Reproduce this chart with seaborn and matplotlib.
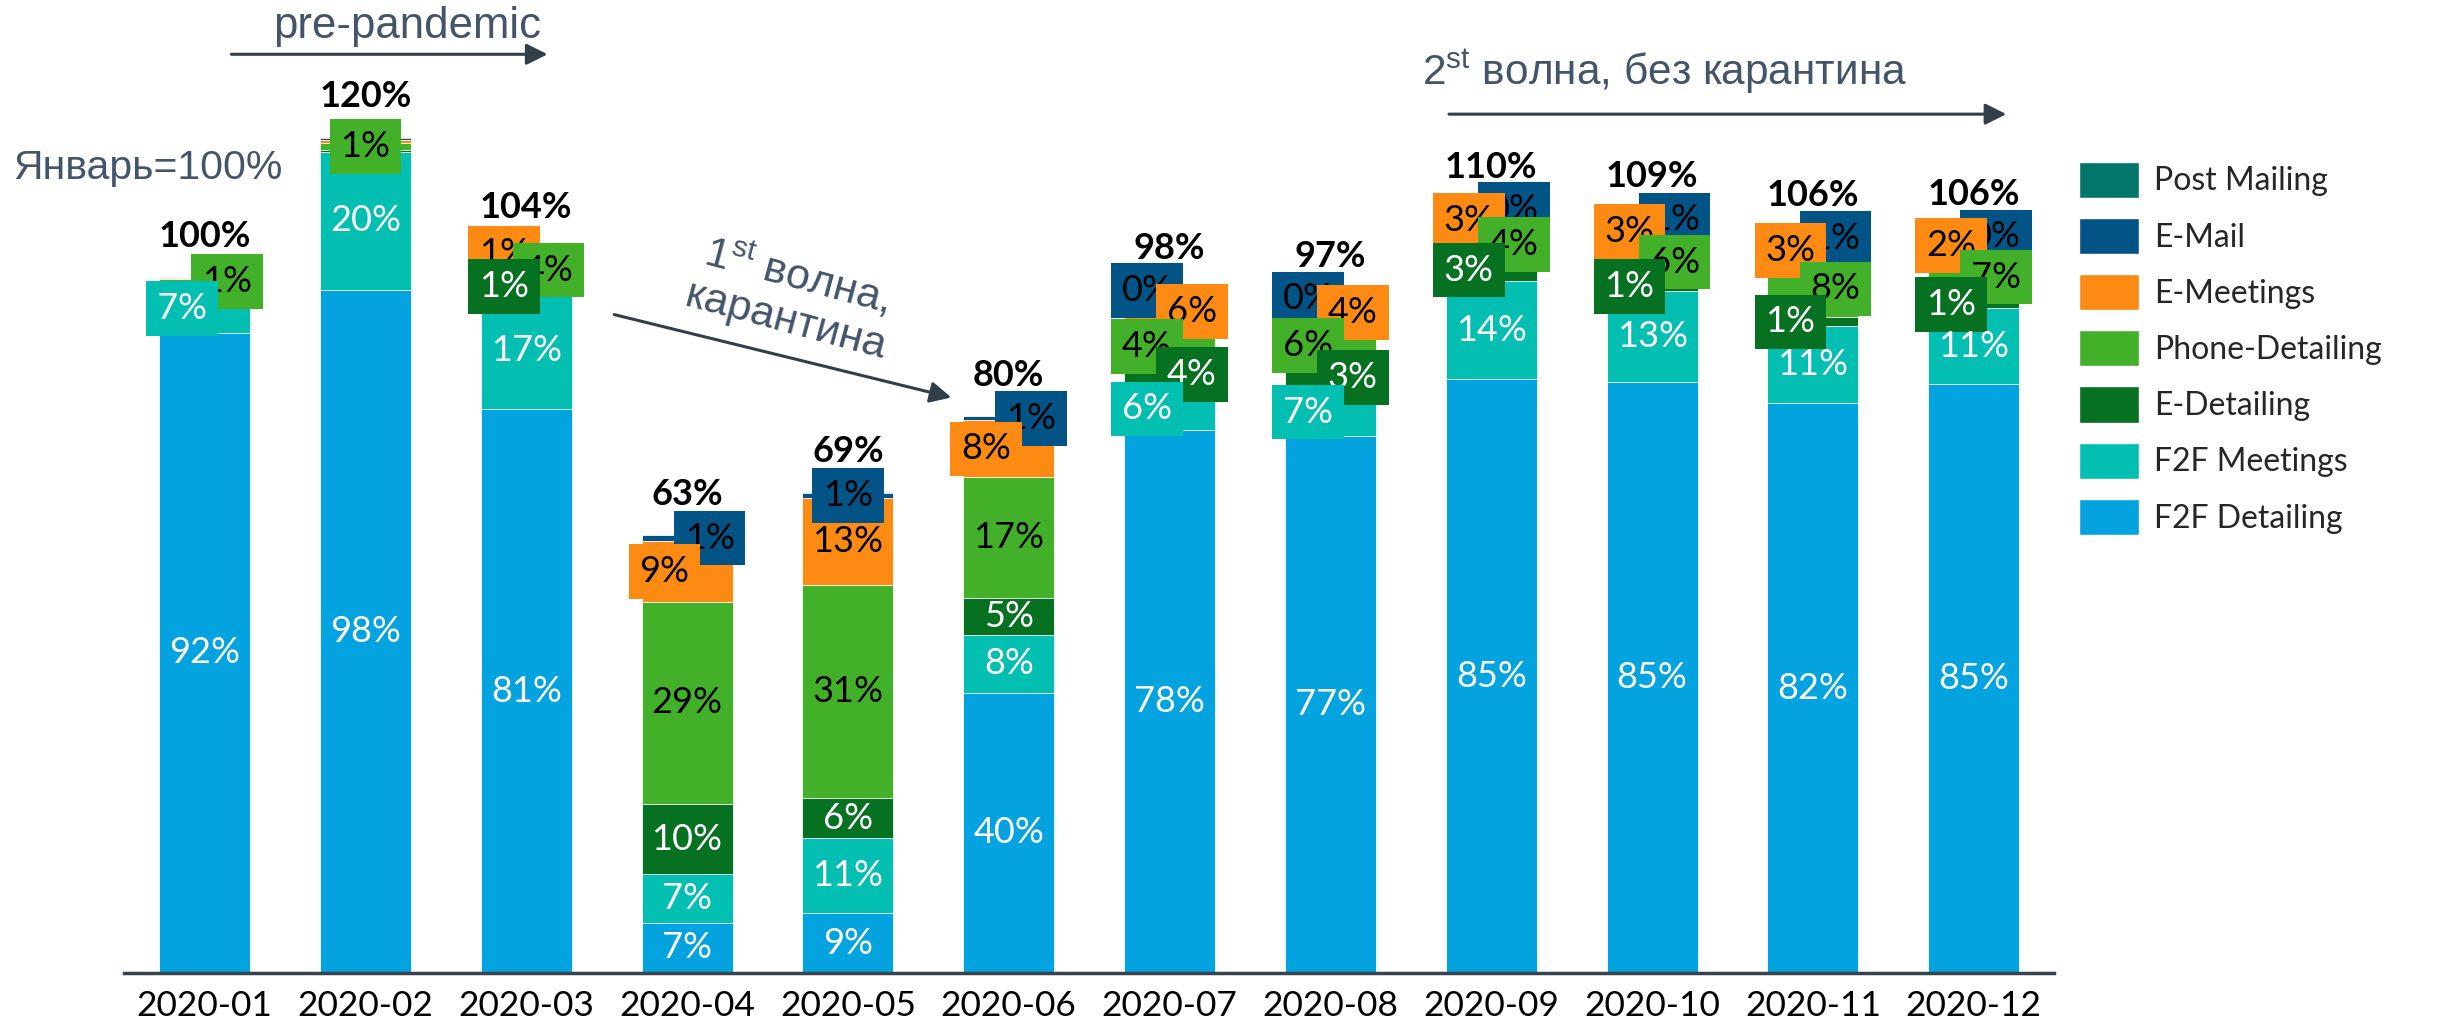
import matplotlib
matplotlib.use('Agg')
import matplotlib.pyplot as plt
import seaborn as sns
import pandas as pd
from matplotlib.patches import Patch

months = ['2020-01', '2020-02', '2020-03', '2020-04', '2020-05', '2020-06',
          '2020-07', '2020-08', '2020-09', '2020-10', '2020-11', '2020-12']

series = ['F2F Detailing', 'F2F Meetings', 'E-Detailing', 'Phone-Detailing',
          'E-Meetings', 'E-Mail', 'Post Mailing']

# share of January volume, %
f2f_detailing = [92.0, 98.2, 81.0, 7.2, 8.6, 40.3, 78.0, 77.2, 85.3, 84.9, 81.9, 84.6]
f2f_meetings = [6.9, 19.8, 17.0, 7.0, 10.8, 8.3, 6.1, 6.8, 14.1, 13.1, 11.0, 10.9]
e_detailing = [0.2, 0.3, 1.2, 10.1, 5.7, 5.3, 3.8, 3.2, 3.2, 1.2, 1.3, 1.1]
phone_detailing = [0.6, 0.9, 3.6, 29.0, 30.6, 17.3, 4.2, 5.9, 4.1, 5.9, 8.2, 6.8]
e_meetings = [0.1, 0.5, 1.1, 8.8, 12.6, 8.2, 5.8, 3.6, 2.9, 2.8, 2.8, 2.2]
e_mail = [0.1, 0.3, 0.2, 0.8, 0.7, 0.6, 0.3, 0.3, 0.3, 0.6, 0.6, 0.3]
post_mailing = [0.1, 0.1, 0.1, 0.1, 0.1, 0.1, 0.1, 0.1, 0.1, 0.1, 0.1, 0.1]

colors = ['#02A3DF', '#02BFB2', '#067121', '#43B02A', '#FD8A13', '#035486', '#02766A']
text_colors = ['white', 'white', 'white', 'black', 'black', 'black', 'black']

# where each label sits: c = centre, b = centre with box, l/r = shifted box, . = hidden
label_place = ['cl.r...', 'cc.b...', 'cclrl..', 'cccclr.', 'cccccb.', 'cccclr.',
               'clrlrl.', 'clrlrl.', 'cclrlr.', 'cclrlr.', 'cclrlr.', 'cclrlr.']

df = pd.DataFrame({'month': months,
                   'F2F Detailing': f2f_detailing,
                   'F2F Meetings': f2f_meetings,
                   'E-Detailing': e_detailing,
                   'Phone-Detailing': phone_detailing,
                   'E-Meetings': e_meetings,
                   'E-Mail': e_mail,
                   'Post Mailing': post_mailing})
cum = df[series].cumsum(axis=1)
totals = cum[series[-1]]

sns.set_style('white')
plt.rcParams['font.family'] = ['Lato', 'DejaVu Sans']
plt.rcParams['mathtext.fontset'] = 'custom'
plt.rcParams['mathtext.rm'] = 'Liberation Sans'

fig = plt.figure(figsize=(24.53, 10.3), dpi=100)
ax = fig.add_axes([0.0506, 0.0553, 0.7868, 0.9447])

# stacked bars: tallest cumulative layer first, lower layers on top
for i in reversed(range(len(series))):
    sns.barplot(x=df['month'], y=cum[series[i]], color=colors[i], saturation=1,
                width=0.566, errorbar=None, edgecolor='white', linewidth=0.6, ax=ax)

shift = {'c': 0, 'b': 0, 'l': -0.14, 'r': 0.14}
for j in range(len(months)):
    bottom = 0
    for i, s in enumerate(series):
        v = df[s][j]
        code = label_place[j][i]
        if code != '.':
            box = None
            if code != 'c':
                box = dict(boxstyle='square,pad=0.3', fc=colors[i], ec='none')
            ax.text(j + shift[code], bottom + v / 2, f'{v:.0f}%', ha='center', va='center',
                    fontsize=26, color=text_colors[i], bbox=box, zorder=20 - i)
        bottom += v
    ax.text(j, totals[j] + 5.8, f'{totals[j]:.0f}%', ha='center', va='center',
            fontsize=26, fontweight='bold', color='black', zorder=30)

ax.set_ylim(0, 139.8)
ax.set_xlim(-0.5, 11.5)
ax.set_xlabel('')
ax.set_ylabel('')
ax.set_yticks([])
sns.despine(ax=ax, left=True)
ax.spines['bottom'].set_color('#37444E')
ax.spines['bottom'].set_linewidth(2.5)
ax.tick_params(axis='x', length=0, labelsize=25.5, pad=12, labelcolor='black')

note_color = '#44546A'
arrow_color = '#333F48'
arrow = dict(arrowstyle='-|>', color=arrow_color, lw=2.2, mutation_scale=32)

ax.text(1.26, 136.0, 'pre-pandemic', ha='center', va='center', fontsize=31.5,
        family='Liberation Sans', color=note_color)
ax.annotate('', xy=(2.15, 132.0), xytext=(0.15, 132.0), arrowprops=arrow, annotation_clip=False)

ax.text(-0.35, 115.6, 'Январь=100%', ha='center', va='center', fontsize=29.5,
        family='Liberation Sans', color=note_color)

ax.text(3.65, 97.1, '1$^{\\mathrm{st}}$ волна,\nкарантина', ha='center', va='center',
        rotation=-15, rotation_mode='anchor', fontsize=31, linespacing=1.15,
        family='Liberation Sans', color=note_color)
ax.annotate('', xy=(4.66, 82.6), xytext=(2.53, 94.7), arrowprops=arrow, annotation_clip=False)

ax.text(9.08, 129.5, '2$^{\\mathrm{st}}$ волна, без карантина', ha='center', va='center',
        fontsize=30.5, family='Liberation Sans', color=note_color)
ax.annotate('', xy=(11.22, 123.4), xytext=(7.72, 123.4), arrowprops=arrow, annotation_clip=False)

handles = [Patch(facecolor=colors[i], label=series[i]) for i in reversed(range(len(series)))]
fig.legend(handles=handles, loc='upper left', bbox_to_anchor=(0.8475, 0.843), frameon=False,
           fontsize=23, handlelength=1.88, handleheight=1.36, handletextpad=0.47,
           labelspacing=0.63, borderpad=0, borderaxespad=0)

fig.savefig('out.png', dpi=100)
